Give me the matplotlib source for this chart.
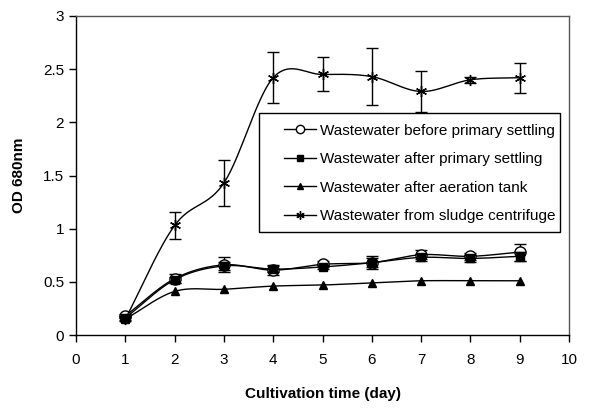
import numpy as np
import matplotlib
matplotlib.use('Agg')
import matplotlib.pyplot as plt
from matplotlib.lines import Line2D
from matplotlib.patches import Rectangle

plt.rcParams['font.family'] = ['Liberation Sans', 'DejaVu Sans']

# ==================== data ====================
days = [1, 2, 3, 4, 5, 6, 7, 8, 9]

before_primary = [0.18, 0.53, 0.66, 0.61, 0.665, 0.68, 0.755, 0.74, 0.78]
before_primary_err = [0.02, 0.04, 0.07, 0.05, 0.03, 0.06, 0.04, 0.03, 0.08]

after_primary = [0.16, 0.52, 0.65, 0.62, 0.64, 0.68, 0.73, 0.72, 0.74]
after_primary_err = [0.02, 0.03, 0.04, 0.03, 0.02, 0.04, 0.03, 0.03, 0.04]

after_aeration = [0.15, 0.41, 0.43, 0.46, 0.47, 0.49, 0.51, 0.51, 0.51]

sludge = [0.15, 1.03, 1.43, 2.42, 2.45, 2.43, 2.29, 2.40, 2.42]
sludge_err = [0.02, 0.13, 0.22, 0.24, 0.16, 0.27, 0.19, 0.03, 0.14]

labels = ['Wastewater before primary settling',
          'Wastewater after primary settling',
          'Wastewater after aeration tank',
          'Wastewater from sludge centrifuge']


def smooth(x, y, n=30):
    """Excel-like smoothed line (Catmull-Rom)"""
    x = np.asarray(x, float)
    y = np.asarray(y, float)
    px = np.concatenate([[2 * x[0] - x[1]], x, [2 * x[-1] - x[-2]]])
    py = np.concatenate([[2 * y[0] - y[1]], y, [2 * y[-1] - y[-2]]])
    xs, ys = [], []
    t = np.linspace(0, 1, n)
    for i in range(1, len(px) - 2):
        for arr, out in ((px, xs), (py, ys)):
            p0, p1, p2, p3 = arr[i - 1], arr[i], arr[i + 1], arr[i + 2]
            out.extend(0.5 * ((2 * p1) + (-p0 + p2) * t +
                              (2 * p0 - 5 * p1 + 4 * p2 - p3) * t ** 2 +
                              (-p0 + 3 * p1 - 3 * p2 + p3) * t ** 3))
    return np.array(xs), np.array(ys)


fig = plt.figure(figsize=(6.01, 4.08), dpi=100)
ax = fig.add_axes([0.1265, 0.1789, 0.8203, 0.7819])

star = (6, 2, 0)
series = [
    (before_primary, before_primary_err, dict(marker='o', mfc='white', ms=8)),
    (after_primary, after_primary_err, dict(marker='s', mfc='black', ms=5.5)),
    (after_aeration, None, dict(marker='^', mfc='black', ms=6)),
    (sludge, sludge_err, dict(marker=star, mfc='black', ms=8)),
]

handles = []
for (vals, err, mk), lab in zip(series, labels):
    sx, sy = smooth(days, vals)
    ax.plot(sx, sy, color='black', lw=1.0)
    if err is not None:
        ax.errorbar(days, vals, yerr=err, fmt='none', ecolor='black',
                    elinewidth=1.0, capsize=4, capthick=1.0)
    ax.plot(days, vals, ls='none', color='black', mec='black', mew=1.0, **mk)
    handles.append(Line2D([0], [0], color='black', lw=1.0, mec='black',
                          mew=1.0, **{**mk, 'ms': mk['ms'] * 0.75}))

ax.set_xlim(0, 10)
ax.set_ylim(0, 3)
ax.set_xticks(range(0, 11))
ax.set_yticks([0, 0.5, 1, 1.5, 2, 2.5, 3])
ax.set_yticklabels(['0', '0.5', '1', '1.5', '2', '2.5', '3'])
ax.tick_params(direction='out', length=5, width=1, labelsize=11, colors='black')
ax.tick_params(axis='x', pad=8)
for sp in ax.spines.values():
    sp.set_color('#555555')
    sp.set_linewidth(1.0)
ax.spines['left'].set_color('black')
ax.spines['bottom'].set_color('black')

ax.set_xlabel('Cultivation time (day)', fontsize=11, fontweight='bold', labelpad=14)
ax.set_ylabel('OD 680nm', fontsize=11, fontweight='bold', labelpad=12)

# legend box drawn separately (wide left padding like the original)
ax.add_patch(Rectangle((3.72, 0.969), 6.1, 1.119, fill=True, facecolor='white',
                       edgecolor='black', lw=1.0, zorder=4))
leg = ax.legend(handles, labels, loc='center left',
                bbox_to_anchor=(4.22, 1.52), bbox_transform=ax.transData,
                frameon=False, fontsize=11, handlelength=2.1,
                handletextpad=0.25, labelspacing=0.95, borderpad=0,
                borderaxespad=0)
leg.set_zorder(5)

fig.savefig('out.png', dpi=100)
